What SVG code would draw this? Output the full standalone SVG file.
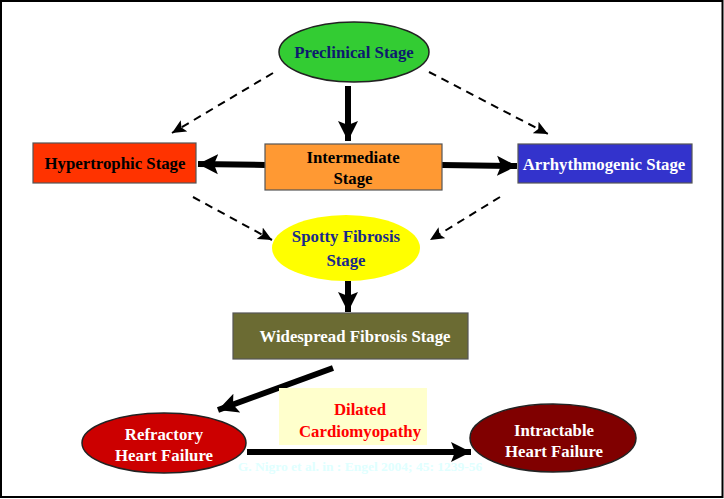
<svg xmlns="http://www.w3.org/2000/svg" width="724" height="499" viewBox="0 0 724 499">
<style>
.t{font-family:"Liberation Serif","Times New Roman",serif;font-weight:bold;font-size:16.8px;text-anchor:middle}
.thick{stroke:#000;stroke-width:6;fill:none}
.dash{stroke:#000;stroke-width:2;stroke-dasharray:8,6;fill:none}
.box{stroke:#555;stroke-width:1.2}
</style>
<defs>
<marker id="big" markerUnits="userSpaceOnUse" markerWidth="22" markerHeight="22" viewBox="0 0 22 22" refX="20" refY="11" orient="auto">
<path d="M0,1 L20,11 L0,21 L4,11 Z" fill="#000"/>
</marker>
<marker id="small" markerUnits="userSpaceOnUse" markerWidth="15" markerHeight="13" viewBox="0 0 15 13" refX="14" refY="6.5" orient="auto">
<path d="M0,0 L14,6.5 L0,13 L3,6.5 Z" fill="#000"/>
</marker>
</defs>
<rect x="1" y="1" width="721.5" height="496" fill="#fff" stroke="#000" stroke-width="2"/>
<g id="connectors">
<line class="thick" x1="348" y1="86" x2="348" y2="141" marker-end="url(#big)"/>
<line class="thick" x1="265" y1="165" x2="198" y2="164" marker-end="url(#big)"/>
<line class="thick" x1="442" y1="165" x2="517" y2="166" marker-end="url(#big)"/>
<line class="dash" x1="273" y1="73" x2="172" y2="133" marker-end="url(#small)"/>
<line class="dash" x1="429" y1="72" x2="548" y2="134" marker-end="url(#small)"/>
<line class="dash" x1="193" y1="197" x2="272" y2="240" marker-end="url(#small)"/>
<line class="dash" x1="500" y1="197" x2="430" y2="240" marker-end="url(#small)"/>
<line class="thick" x1="348" y1="281" x2="348" y2="312" marker-end="url(#big)"/>
<line class="thick" x1="333" y1="368" x2="218" y2="410" marker-end="url(#big)"/>
<line class="thick" x1="247" y1="452" x2="471" y2="452" marker-end="url(#big)"/>
</g>
<g id="preclinical">
<ellipse cx="354" cy="52" rx="75" ry="30" fill="#33cc33" stroke="#222" stroke-width="1.5"/>
<text class="t" x="354" y="58" fill="#0d1a6e">Preclinical Stage</text>
</g>
<g id="hypertrophic">
<rect class="box" x="33" y="143" width="163" height="40" fill="#ff3300"/>
<text class="t" x="115" y="169" fill="#000">Hypertrophic Stage</text>
</g>
<g id="intermediate">
<rect class="box" x="265" y="144" width="177" height="46" fill="#ff9933"/>
<text class="t" x="353" y="163" fill="#000">Intermediate</text>
<text class="t" x="353" y="184" fill="#000">Stage</text>
</g>
<g id="arrhythmogenic">
<rect class="box" x="518" y="144" width="174" height="39" fill="#3333cc"/>
<text class="t" x="604" y="170" fill="#fff">Arrhythmogenic Stage</text>
</g>
<g id="spotty">
<ellipse cx="346" cy="248" rx="74" ry="33" fill="#ffff00"/>
<text class="t" x="346" y="242" fill="#1a2a8a">Spotty Fibrosis</text>
<text class="t" x="346" y="266" fill="#1a2a8a">Stage</text>
</g>
<g id="widespread">
<rect class="box" x="233" y="313" width="235" height="46" fill="#6b6b33"/>
<text class="t" x="355" y="342" fill="#fff">Widespread Fibrosis Stage</text>
</g>
<g id="dilated">
<rect x="279" y="388" width="148" height="57" fill="#ffffcc"/>
<text class="t" x="360" y="415" fill="#ff0000">Dilated</text>
<text class="t" x="360" y="437" fill="#ff0000">Cardiomyopathy</text>
</g>
<g id="refractory">
<ellipse cx="164" cy="443" rx="82" ry="30" fill="#cc0000" stroke="#222" stroke-width="1.5"/>
<text class="t" x="164" y="440" fill="#fff">Refractory</text>
<text class="t" x="164" y="461" fill="#fff">Heart Failure</text>
</g>
<g id="intractable">
<ellipse cx="553" cy="438" rx="83" ry="34" fill="#800000" stroke="#222" stroke-width="1.5"/>
<text class="t" x="554" y="436" fill="#fff">Intractable</text>
<text class="t" x="554" y="457" fill="#fff">Heart Failure</text>
</g>
<text x="360" y="471" style="font-family:'Liberation Serif',serif;font-weight:bold;font-size:13.5px;text-anchor:middle" fill="#e0ffff">G. Nigro et al. in : Engel  2004; 45: 1239-56</text>
</svg>
